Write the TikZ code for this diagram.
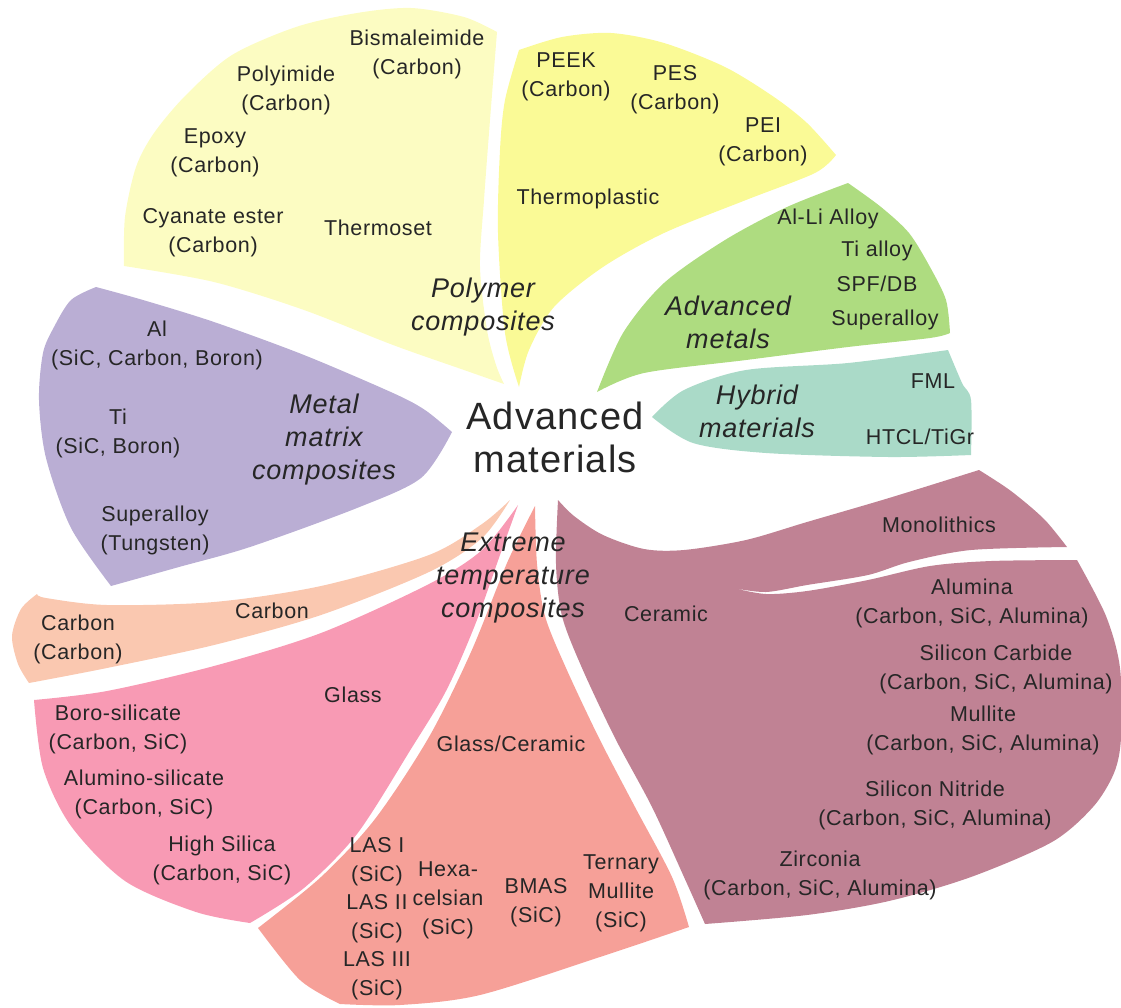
\documentclass[tikz,border=0pt]{standalone}
\usepackage{fontspec}
\setmainfont{Liberation Sans}[LetterSpace=3]
\definecolor{cThermoset}{HTML}{FCFCC2}
\definecolor{cThermoplastic}{HTML}{FAFA96}
\definecolor{cMetals}{HTML}{AEDC80}
\definecolor{cHybrid}{HTML}{AADAC8}
\definecolor{cMMC}{HTML}{BAAED4}
\definecolor{cCarbon}{HTML}{FAC8B0}
\definecolor{cGlass}{HTML}{F89AB4}
\definecolor{cGlassCer}{HTML}{F6A098}
\definecolor{cCeramic}{HTML}{C08294}
\definecolor{txt}{HTML}{262626}
\tikzset{
  lbl/.style={align=center, inner sep=0pt, text=txt, font=\fontsize{21.5}{29}\selectfont},
  ital/.style={align=center, inner sep=0pt, text=txt, font=\fontsize{27}{33}\selectfont\itshape},
  bigtitle/.style={align=center, inner sep=0pt, text=txt, font=\fontsize{38}{43}\selectfont},
}
\begin{document}
\begin{tikzpicture}[x=1pt,y=-1pt]
\useasboundingbox (0,0) rectangle (1121,1007);

% Thermoset (pale yellow)
\fill[cThermoset] plot[smooth] coordinates {(124,266) (125,217) (136,167) (154,133) (186,95) (232,55) (296,27) (357,13) (411,8) (464,17) (497,32)}
  -- plot[smooth] coordinates {(497,32) (490,120) (484,200) (480,267) (487,330) (496,365) (504,384)}
  -- plot[smooth] coordinates {(504,384) (464,370) (393,345) (304,310) (214,282) (124,266)} -- cycle;

% Thermoplastic (yellow)
\fill[cThermoplastic] plot[smooth] coordinates {(519,50) (562,37) (611,33) (664,43) (725,67) (774,97) (807,123) (836,155)}
  -- plot[smooth] coordinates {(836,155) (815,173) (746,200) (664,233) (603,267) (554,307) (529,350) (519,387)}
  -- plot[smooth] coordinates {(519,387) (505,333) (498,233) (500,150) (505,100) (519,50)} -- cycle;

% Advanced metals (green)
\fill[cMetals] plot[smooth] coordinates {(597,392) (623,333) (664,283) (725,240) (787,207) (848,183)}
  -- plot[smooth] coordinates {(848,183) (881,207) (909,233) (930,267) (946,300) (950,333)}
  -- plot[smooth] coordinates {(950,333) (930,338) (848,347) (746,360) (644,373) (597,392)} -- cycle;

% Hybrid materials (teal)
\fill[cHybrid] plot[smooth] coordinates {(652,417) (684,390) (746,370) (848,363) (948,350)}
  -- plot[smooth] coordinates {(948,350) (962,383) (971,400) (971,455)}
  -- plot[smooth] coordinates {(971,455) (889,457) (766,453) (693,443) (652,417)} -- cycle;

% Metal matrix composites (lavender)
\fill[cMMC] plot[smooth] coordinates {(96,287) (143,300) (214,322) (304,355) (393,393) (425,410) (452,432)}
  -- plot[smooth] coordinates {(452,432) (421,478) (357,508) (250,547) (179,567) (111,586)}
  -- plot[smooth] coordinates {(111,586) (71,528) (46,458) (39,400) (43,353) (54,327) (71,300) (96,287)} -- cycle;

% Carbon (peach)
\fill[cCarbon] plot[smooth] coordinates {(37,594) (46,598) (107,605) (214,602) (321,586) (429,555) (482,524) (510,500)}
  -- plot[smooth] coordinates {(510,500) (482,538) (429,572) (321,615) (214,645) (107,668) (29,683)}
  -- plot[smooth] coordinates {(29,683) (18,664) (12,636) (21,609) (37,594)} -- cycle;

% Glass (pink)
\fill[cGlass] plot[smooth] coordinates {(34,700) (107,691) (214,666) (321,633) (429,584) (482,550) (518,505)}
  -- plot[smooth] coordinates {(518,505) (500,555) (475,625) (446,691) (411,749) (357,834) (304,888) (250,923)}
  -- plot[smooth] coordinates {(250,923) (196,912) (125,881) (71,826) (43,768) (34,700)} -- cycle;

% Glass/Ceramic (salmon)
\fill[cGlassCer] plot[smooth] coordinates {(258,928) (321,877) (375,819) (429,737) (471,652) (507,563) (535,506)}
  -- plot[smooth] coordinates {(535,506) (537,564) (545,616) (566,668) (599,738) (635,807) (672,877) (689,927)}
  -- plot[smooth] coordinates {(689,927) (603,956) (480,995) (400,1005) (340,1004)}
  -- plot[smooth] coordinates {(340,1004) (300,980) (258,928)} -- cycle;

% Ceramic (mauve) with the notch separating Monolithics
\fill[cCeramic] plot[smooth] coordinates {(558,500) (574,516) (603,535) (644,549) (684,550) (746,540) (807,522) (889,498) (979,470)}
  -- plot[smooth] coordinates {(979,470) (1011,491) (1044,519) (1067,547)}
  -- plot[smooth] coordinates {(1067,547) (971,550) (909,562) (868,575) (807,585) (766,592) (733,588)}
  -- plot[smooth] coordinates {(733,588) (766,594) (807,591) (868,580) (930,566) (991,561) (1077,560)}
  -- plot[smooth] coordinates {(1077,560) (1106,616) (1120,668) (1121,738) (1114,773) (1093,807) (1052,842) (971,877) (889,901) (807,915) (705,924)}
  -- plot[smooth] coordinates {(705,924) (684,877) (652,807) (615,738) (582,668) (562,616) (556,564) (558,500)} -- cycle;

% Centre title
\node[bigtitle] (title) at (555,437) {Advanced\\materials};

% Polymer composites
\node[lbl] (bmi) at (417,54) {Bismaleimide\\(Carbon)};
\node[lbl] (pi) at (286,90) {Polyimide\\(Carbon)};
\node[lbl] (epoxy) at (215,153) {Epoxy\\(Carbon)};
\node[lbl] (cyan) at (213,233) {Cyanate ester\\(Carbon)};
\node[lbl] (thermoset) at (378,228) {Thermoset};
\node[ital] (polymer) at (483,307) {Polymer\\composites};
\node[lbl] (peek) at (566,77) {PEEK\\(Carbon)};
\node[lbl] (pes) at (675,90) {PES\\(Carbon)};
\node[lbl] (pei) at (763,142) {PEI\\(Carbon)};
\node[lbl] (thermoplastic) at (588,199) {Thermoplastic};

% Advanced metals
\node[lbl] (alli) at (828,219) {Al-Li Alloy};
\node[lbl] (tialloy) at (877,251) {Ti alloy};
\node[lbl] (spf) at (877,284) {SPF/DB};
\node[lbl] (superalloyA) at (885,320) {Superalloy};
\node[ital] (metals) at (728,322) {Advanced\\metals};

% Hybrid materials
\node[lbl] (fml) at (933,381) {FML};
\node[lbl] (htcl) at (920,437) {HTCL/TiGr};
\node[ital] (hybrid) at (757,411) {Hybrid\\materials};

% Metal matrix composites
\node[lbl] (al) at (157,345) {Al\\(SiC, Carbon, Boron)};
\node[lbl] (ti) at (118,433) {Ti\\(SiC, Boron)};
\node[lbl] (superalloyM) at (155,530) {Superalloy\\(Tungsten)};
\node[ital] (mmc) at (324,440) {Metal\\matrix\\composites};

% Carbon
\node[lbl] (cc) at (78,639) {Carbon\\(Carbon)};
\node[lbl] (carbon) at (272,611) {Carbon};

% Glass
\node[lbl] (glass) at (353,695) {Glass};
\node[lbl] (boro) at (118,729) {Boro-silicate\\(Carbon, SiC)};
\node[lbl] (alumino) at (144,794) {Alumino-silicate\\(Carbon, SiC)};
\node[lbl] (highsil) at (222,860) {High Silica\\(Carbon, SiC)};

% Extreme temperature composites
\node[ital] (extreme) at (513,578) {Extreme\\temperature\\composites};

% Glass/Ceramic
\node[lbl] (glasscer) at (511,744) {Glass/Ceramic};
\node[lbl] (las1) at (377,862) {LAS I\\(SiC)};
\node[lbl] (las2) at (377,919) {LAS II\\(SiC)};
\node[lbl] (las3) at (377,976) {LAS III\\(SiC)};
\node[lbl] (hexa) at (448,900) {Hexa-\\celsian\\(SiC)};
\node[lbl] (bmas) at (536,903) {BMAS\\(SiC)};
\node[lbl] (ternary) at (621,893) {Ternary\\Mullite\\(SiC)};

% Ceramic
\node[lbl] (mono) at (939,525) {Monolithics};
\node[lbl] (ceramic) at (666,614) {Ceramic};
\node[lbl] (alumina) at (972,603) {Alumina\\(Carbon, SiC, Alumina)};
\node[lbl] (sic) at (996,669) {Silicon Carbide\\(Carbon, SiC, Alumina)};
\node[lbl] (mullite) at (983,730) {Mullite\\(Carbon, SiC, Alumina)};
\node[lbl] (sin) at (935,805) {Silicon Nitride\\(Carbon, SiC, Alumina)};
\node[lbl] (zirc) at (820,875) {Zirconia\\(Carbon, SiC, Alumina)};
\end{tikzpicture}
\end{document}
